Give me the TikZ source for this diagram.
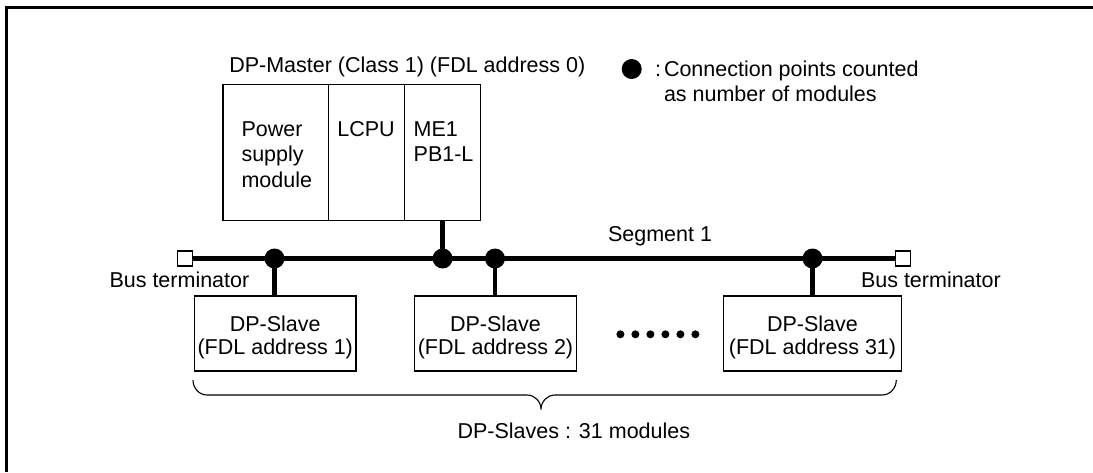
\documentclass[tikz,border=0pt]{standalone}
\usepackage{fontspec}
\setmainfont{Liberation Sans}
\begin{document}
\begin{tikzpicture}[x=1pt,y=-1pt,
  every node/.style={inner sep=0pt,outer sep=0pt,font=\fontsize{21.5}{25.5}\selectfont},
  txt/.style={anchor=base west},
  ctxt/.style={anchor=base},
  box/.style={draw,line width=1.2pt,anchor=north west,minimum height=#1},
  modbox/.style={box=135.8pt},
  slavebox/.style={box=75pt},
  bus/.style={line width=4.8pt},
  conn/.style={circle,fill=black,minimum size=20pt},
  term/.style={draw,fill=white,line width=1.2pt,minimum size=15pt},
  frameline/.style={line width=2.5pt}]
\useasboundingbox (0,0) rectangle (1093,472);
% frame
\draw[frameline] (6.5,472) -- (6.5,7.3) -- (1093,7.3);
% master
\node[txt] (mtitle) at (229.3,72.7) {DP-Master (Class 1) (FDL address 0)};
\node[modbox,minimum width=105.7pt] (ps) at (222.9,84.7) {};
\node[modbox,minimum width=76.2pt] (lcpu) at (328.6,84.7) {};
\node[modbox,minimum width=75.6pt] (me) at (404.8,84.7) {};
\node[txt] (ps1) at (241.5,136) {Power};
\node[txt] (ps2) at (241.5,161.7) {supply};
\node[txt] (ps3) at (241.5,187.3) {module};
\node[txt] (lc1) at (337.3,136) {LCPU};
\node[txt] (me1) at (413.7,136) {ME1};
\node[txt] (me2) at (413.7,161.7) {PB1-L};
% legend
\node[conn] (ldot) at (631.7,69) {};
\node[txt] (lcolon) at (655,76) {:};
\node[txt] (l1) at (664,76) {Connection points counted};
\node[txt] (l2) at (664,101) {as number of modules};
% bus
\node[term] (tl) at (185,258.5) {};
\node[term] (tr) at (903.3,258.5) {};
\draw[bus] (tl.east) -- (tr.west);
\node[txt] (seg) at (608,241.7) {Segment 1};
\node[txt] (btl) at (109.5,287.3) {Bus terminator};
\node[txt] (btr) at (861,287.3) {Bus terminator};
% slaves
\node[slavebox,minimum width=161.5pt] (s1) at (194.5,296) {};
\node[slavebox,minimum width=162.4pt] (s2) at (414.3,296) {};
\node[slavebox,minimum width=178pt] (s31) at (723.5,296) {};
\node[ctxt] (s1a) at ([yshift=-35pt]s1.north) {DP-Slave};
\node[ctxt] (s1b) at ([yshift=-58pt]s1.north) {(FDL address 1)};
\node[ctxt] (s2a) at ([yshift=-35pt]s2.north) {DP-Slave};
\node[ctxt] (s2b) at ([yshift=-58pt]s2.north) {(FDL address 2)};
\node[ctxt] (s31a) at ([yshift=-35pt]s31.north) {DP-Slave};
\node[ctxt] (s31b) at ([yshift=-58pt]s31.north) {(FDL address 31)};
% connection points
\node[conn] (d1) at (274.5,258.5) {};
\node[conn] (dm) at (442.6,258.5) {};
\node[conn] (d2) at (495,258.5) {};
\node[conn] (d31) at (812.5,258.5) {};
\draw[bus] (me.south) -- (dm.center);
\draw[bus] (d1.center) -- (d1 |- s1.north);
\draw[bus] (d2.center) -- (d2 |- s2.north);
\draw[bus] (d31.center) -- (d31 |- s31.north);
% ellipsis
\foreach \i in {0,...,5} \fill ({620.4+15*\i},334.3) circle (4pt);
% brace
\coordinate (bl) at (193,380);
\coordinate (br) at (896.3,380);
\coordinate (bt) at (541,409.5);
\draw[line width=1.1pt] (bl) to[out=-90,in=180] (207,395) -- (527,395)
  to[out=0,in=90] (bt) to[out=90,in=180] (555,395) -- (882,395)
  to[out=0,in=-90] (br);
\node[txt] (cnt) at (457.5,438.3) {DP-Slaves : 31 modules};
\end{tikzpicture}
\end{document}
